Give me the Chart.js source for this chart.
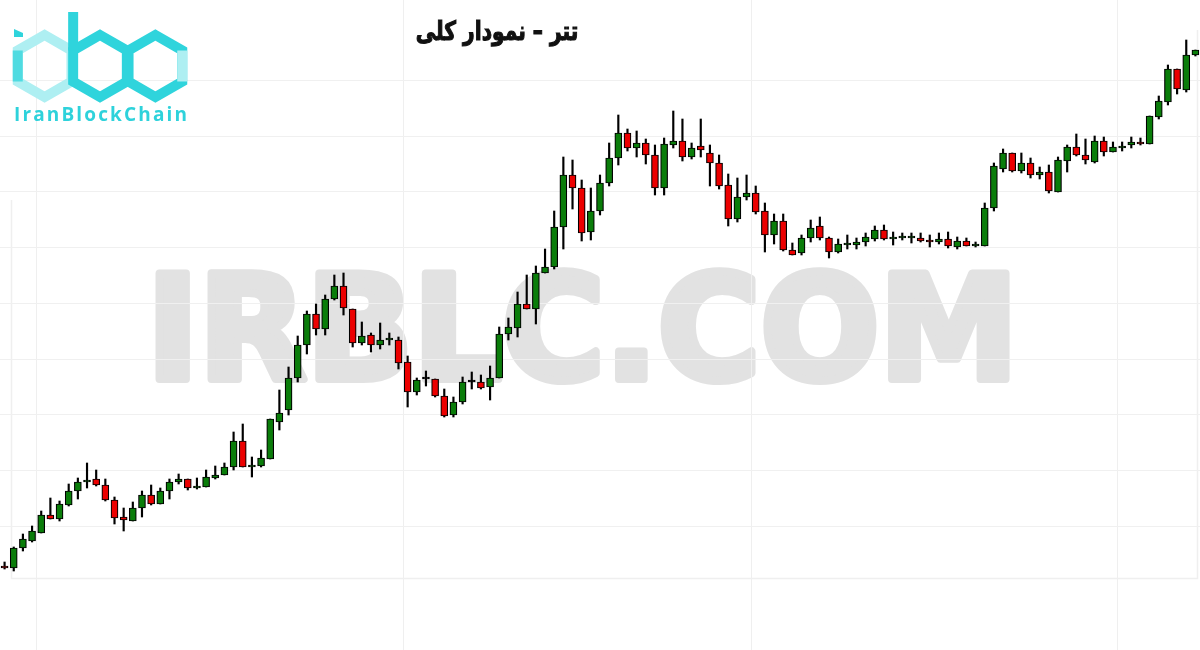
<!DOCTYPE html>
<html>
<head>
<meta charset="utf-8">
<script src="https://cdn.jsdelivr.net/npm/chart.js@4.4.1/dist/chart.umd.min.js"></script>
<style>
    html, body { margin: 0; padding: 0; background: #fff; }
</style>
</head>
<body>
<canvas id="usdtChart" width="1200" height="650"></canvas>
<script>
/* ------------------------------
   DATA (candles)
--------------------------------*/

const opens = [
    84, 82, 102, 109, 117, 135, 131, 145, 159, 168,
    171, 165, 150, 133, 129, 142, 155, 146, 159, 168,
    171, 162, 163, 172, 175, 183, 209, 183, 184, 191,
    228, 240, 272, 305, 336, 321, 351, 364, 341, 307,
    315, 305, 310, 310, 288, 258, 271, 271, 254, 235,
    248, 268, 268, 263, 272, 316, 322, 346, 341, 377,
    383, 423, 475, 462, 418, 439, 467, 492, 517, 502,
    507, 495, 462, 505, 509, 493, 504, 497, 487, 465,
    431, 453, 457, 439, 415, 429, 400, 397, 412, 424,
    412, 398, 405, 405, 408, 411, 420, 411, 412, 412,
    412, 410, 408, 411, 403, 409, 404, 404, 442, 481,
    497, 479, 487, 475, 478, 458, 489, 503, 495, 488,
    509, 498, 502, 505, 508, 506, 533, 548, 581, 560,
    595
];

const highs = [
    88, 103, 116, 124, 139, 152, 149, 166, 172, 187,
    180, 171, 153, 142, 148, 159, 165, 162, 171, 176,
    171, 172, 180, 184, 187, 218, 226, 193, 200, 231,
    260, 283, 314, 339, 346, 355, 375, 377, 341, 328,
    317, 327, 317, 313, 294, 272, 279, 271, 261, 253,
    273, 278, 275, 284, 323, 332, 358, 375, 384, 401,
    439, 493, 490, 470, 462, 475, 507, 535, 521, 519,
    511, 505, 512, 539, 531, 507, 531, 505, 495, 476,
    472, 475, 464, 447, 436, 436, 407, 415, 430, 433,
    413, 411, 415, 412, 417, 424, 425, 418, 417, 417,
    417, 415, 417, 418, 413, 412, 408, 447, 487, 501,
    497, 497, 492, 483, 485, 493, 505, 516, 511, 514,
    513, 508, 508, 513, 512, 534, 554, 585, 581, 610,
    600
];

const lows = [
    81, 79, 99, 108, 117, 131, 129, 144, 151, 162,
    164, 149, 126, 119, 129, 133, 145, 146, 151, 166,
    160, 161, 163, 171, 175, 180, 183, 173, 183, 191,
    220, 235, 268, 296, 315, 315, 350, 335, 303, 305,
    298, 301, 305, 281, 243, 255, 264, 253, 233, 233,
    246, 261, 261, 250, 272, 310, 313, 341, 326, 377,
    381, 401, 441, 409, 410, 435, 464, 485, 499, 493,
    486, 455, 455, 502, 489, 491, 493, 464, 461, 424,
    428, 450, 436, 398, 406, 399, 395, 395, 408, 410,
    392, 397, 401, 401, 404, 409, 410, 405, 410, 407,
    408, 403, 406, 402, 401, 404, 403, 404, 439, 478,
    478, 477, 472, 471, 457, 458, 478, 494, 486, 487,
    494, 498, 499, 502, 505, 506, 531, 545, 556, 558,
    594
];

const closes = [
    82, 102, 111, 119, 135, 131, 146, 159, 168, 170,
    165, 150, 132, 130, 142, 155, 146, 159, 168, 171,
    162, 164, 173, 175, 183, 209, 183, 184, 192, 231,
    237, 272, 305, 336, 321, 351, 364, 342, 307, 314,
    305, 310, 311, 287, 258, 270, 271, 254, 234, 248,
    268, 268, 262, 272, 316, 323, 346, 341, 377, 383,
    423, 475, 462, 417, 439, 467, 492, 517, 502, 507,
    495, 462, 506, 509, 493, 502, 500, 487, 464, 431,
    453, 457, 438, 415, 429, 400, 395, 412, 422, 412,
    398, 406, 406, 408, 413, 420, 411, 413, 413, 413,
    409, 408, 411, 404, 409, 404, 405, 442, 484, 497,
    479, 487, 475, 478, 459, 490, 503, 495, 490, 509,
    498, 503, 503, 508, 506, 534, 549, 581, 561, 595,
    600
];

// faint grid levels on the hidden price axis, and candles where the vertical grid starts
const gridLevels = [124, 180, 235, 291, 347, 402, 458, 514, 569];
const gridCandles = [4, 44, 82, 122];

const labels = opens.map((_, i) => String(i + 1));

const titleText = "تتر – نمودار کلی";
const watermarkText = "IRBLC.COM";
const logoText = "IranBlockChain";

/* ------------------------------
   BUILD DATASETS
--------------------------------*/

const bodies = opens.map((o, i) => [o, closes[i]]);
const wicks = lows.map((l, i) => [l, highs[i]]);
const bodyColors = opens.map((o, i) => closes[i] > o ? "#0a7d0a" : (closes[i] < o ? "#ec0000" : "#000"));

/* ------------------------------
   DECORATION (watermark, logo, title)
--------------------------------*/

function hexPoints(cx, cy, r) {
    let pts = [];
    for (let k = 0; k < 6; k++) {
        let a = (-90 + k * 60) * Math.PI / 180;
        pts.push([cx + r * Math.cos(a), cy + r * Math.sin(a)]);
    }
    return pts;
}

function strokeHex(ctx, pts, color) {
    ctx.strokeStyle = color;
    ctx.beginPath();
    pts.forEach((p, k) => k ? ctx.lineTo(p[0], p[1]) : ctx.moveTo(p[0], p[1]));
    ctx.closePath();
    ctx.stroke();
}

function strokeSide(ctx, a, b, color) {
    ctx.strokeStyle = color;
    ctx.beginPath();
    ctx.moveTo(a[0], a[1]);
    ctx.lineTo(b[0], b[1]);
    ctx.stroke();
}

const decorPlugin = {
    id: "decor",
    beforeDraw(chart) {
        const ctx = chart.ctx;
        ctx.save();
        ctx.fillStyle = "#fff";
        ctx.fillRect(0, 0, chart.width, chart.height);

        // big grey watermark (thickened with a stroke)
        ctx.font = "bold 160px 'DejaVu Sans'";
        ctx.textAlign = "left";
        ctx.textBaseline = "alphabetic";
        const m = ctx.measureText(watermarkText);
        const w = m.actualBoundingBoxLeft + m.actualBoundingBoxRight;
        const pad = 4;
        const sx = (855 - 2 * pad) / w;
        const sy = (116 - 2 * pad) / m.actualBoundingBoxAscent;
        ctx.translate(155 + pad, 383 - pad);
        ctx.scale(sx, sy);
        ctx.fillStyle = "#e2e2e2";
        ctx.strokeStyle = "#e2e2e2";
        ctx.lineJoin = "round";
        ctx.lineWidth = 2 * pad / Math.min(sx, sy);
        ctx.fillText(watermarkText, m.actualBoundingBoxLeft, 0);
        ctx.strokeText(watermarkText, m.actualBoundingBoxLeft, 0);
        ctx.restore();

        // plot frame
        ctx.save();
        ctx.strokeStyle = "#efefef";
        ctx.lineWidth = 1.5;
        ctx.beginPath();
        ctx.moveTo(11.5, 200);
        ctx.lineTo(11.5, 578.5);
        ctx.lineTo(1197.5, 578.5);
        ctx.lineTo(1197.5, 30);
        ctx.stroke();
        ctx.restore();
    },
    afterDraw(chart) {
        const ctx = chart.ctx;
        ctx.save();

        // logo hexagons
        const dark = "#2fd4dc";
        const light = "#aeeff2";
        ctx.lineWidth = 10;
        ctx.lineJoin = "miter";
        const hi = hexPoints(44.6, 66, 31);
        const hb = hexPoints(100, 66, 31);
        const hc = hexPoints(155.4, 66, 31);
        strokeHex(ctx, hi, light);
        strokeSide(ctx, hi[4], hi[5], "#4fdbe1");
        strokeHex(ctx, hb, dark);
        strokeHex(ctx, hc, dark);
        strokeSide(ctx, hc[1], hc[2], light);
        ctx.fillStyle = dark;
        ctx.fillRect(hb[5][0] - 5, 12, 10, hb[5][1] - 12);
        // dot of the i
        ctx.beginPath();
        ctx.moveTo(14, 29);
        ctx.lineTo(23, 33);
        ctx.lineTo(23, 37);
        ctx.lineTo(14, 37);
        ctx.closePath();
        ctx.fill();

        // logo caption
        ctx.font = "bold 19px 'Open Sans'";
        ctx.textBaseline = "alphabetic";
        ctx.textAlign = "left";
        const lw = ctx.measureText(logoText).width;
        ctx.letterSpacing = ((173 - lw) / 13).toFixed(2) + "px";
        ctx.fillStyle = "#2ed2db";
        ctx.fillText(logoText, 14, 121);
        ctx.letterSpacing = "0px";

        // title, stretched a little taller and emboldened
        ctx.font = "bold 20px 'DejaVu Sans'";
        const tw = ctx.measureText(titleText).width;
        const fs = 20 * 163 / tw;
        ctx.font = "bold " + fs.toFixed(1) + "px 'DejaVu Sans'";
        ctx.direction = "rtl";
        ctx.textAlign = "center";
        ctx.fillStyle = "#111";
        ctx.strokeStyle = "#111";
        ctx.lineWidth = 0.9;
        ctx.translate(497, 40);
        ctx.scale(1, 1.3);
        ctx.fillText(titleText, 0, 0);
        ctx.strokeText(titleText, 0, 0);

        ctx.restore();
    }
};

/* ------------------------------
   CANDLE CHART
--------------------------------*/

let usdtCtx = document.getElementById("usdtChart");

let usdtChart = new Chart(usdtCtx, {
    type: "bar",
    data: {
        labels: labels,
        datasets: [{
            label: "بدنه",
            data: bodies,
            backgroundColor: bodyColors,
            borderColor: "#000",
            borderWidth: 1.2,
            borderSkipped: false,
            barThickness: 7,
            minBarLength: 2,
            grouped: false,
            order: 0
        }, {
            label: "سایه",
            data: wicks,
            backgroundColor: "#000",
            barThickness: 1.5,
            grouped: false,
            order: 1
        }]
    },
    options: {
        responsive: false,
        animation: false,
        layout: { padding: 0 },
        plugins: {
            legend: { display: false },
            tooltip: { enabled: false },
            title: { display: false }
        },
        scales: {
            x: {
                offset: true,
                ticks: { display: false, autoSkip: false },
                border: { display: false },
                grid: {
                    drawTicks: false,
                    color: c => gridCandles.includes(c.index) ? "#efefef" : "rgba(0,0,0,0)"
                }
            },
            y: {
                min: 0,
                max: 650,
                afterBuildTicks: scale => { scale.ticks = gridLevels.map(v => ({ value: v })); },
                ticks: { display: false },
                border: { display: false },
                grid: { drawTicks: false, color: "#f0f0f0" }
            }
        }
    },
    plugins: [decorPlugin]
});
</script>
</body>
</html>
